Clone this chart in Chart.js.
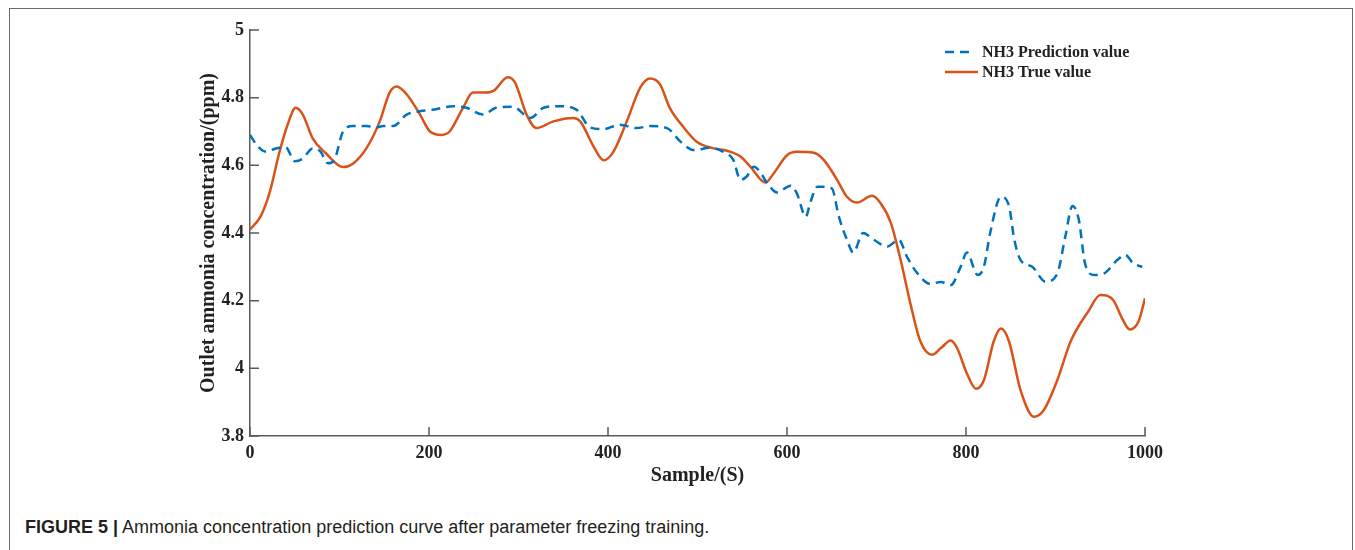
<!DOCTYPE html>
<html>
<head>
<meta charset="utf-8">
<script src="https://cdn.jsdelivr.net/npm/chart.js@4.4.1/dist/chart.umd.min.js"></script>
<style>
  html, body { margin: 0; padding: 0; background: #fff; }
  body { width: 1355px; height: 550px; position: relative; overflow: hidden; }
  #frame {
    position: absolute; left: 9px; top: 8px; width: 1344px; height: 600px;
    border: 1px solid #6b6b6b; border-bottom: none; box-sizing: border-box;
  }
  #plot { position: absolute; left: 0; top: 0; width: 1355px; height: 500px; }
  #caption {
    position: absolute; left: 25px; top: 517px;
    font-family: 'Liberation Sans', Arial, sans-serif; font-size: 18px;
    color: #231f20; white-space: nowrap;
  }
  #caption b { font-weight: bold; }
</style>
</head>
<body>
<div id="frame"></div>
<div id="plot"><canvas id="chart"></canvas></div>
<div id="caption"><b>FIGURE 5 |</b> Ammonia concentration prediction curve after parameter freezing training.</div>
<script>
// Outlet NH3 readings against sample time (s)
const trueSamples = [0, 12, 22, 33, 42, 51, 59, 70, 85, 104, 115, 130, 145, 156, 164, 175, 190, 201, 214, 223,
  238, 249, 262, 272, 288, 296, 309, 320, 339, 361, 369, 384, 395, 406, 421, 436, 447, 458, 469, 484,
  499, 518, 533, 548, 559, 576, 585, 600, 611, 630, 641, 656, 667, 678, 695, 704, 716, 727, 738, 749,
  762, 772, 783, 790, 801, 811, 820, 831, 839, 848, 861, 876, 887, 902, 917, 937, 950, 965, 974, 983,
  993, 1000]
const trueValues = [4.41, 4.45, 4.52, 4.64, 4.72, 4.77, 4.75, 4.68, 4.635, 4.595, 4.605, 4.65, 4.73, 4.815, 4.833, 4.81, 4.75, 4.70, 4.69, 4.70,
  4.77, 4.815, 4.815, 4.82, 4.86, 4.845, 4.75, 4.71, 4.73, 4.74, 4.73, 4.655, 4.615, 4.64, 4.73, 4.83, 4.857, 4.84, 4.77, 4.714,
  4.67, 4.65, 4.643, 4.626, 4.596, 4.549, 4.576, 4.63, 4.64, 4.637, 4.616, 4.557, 4.507, 4.49, 4.51, 4.49, 4.43, 4.32, 4.19, 4.08,
  4.04, 4.06, 4.082, 4.06, 3.985, 3.94, 3.965, 4.08, 4.118, 4.08, 3.935, 3.857, 3.877, 3.965, 4.08, 4.17, 4.217, 4.20, 4.15, 4.115,
  4.14, 4.207]

const predSamples = [0, 9, 18, 29, 40, 50, 59, 70, 79, 87, 94, 104, 115, 130, 141, 149, 160, 175, 190, 204,
  227, 242, 260, 275, 294, 313, 328, 346, 365, 380, 395, 413, 432, 447, 466, 481, 496, 514, 529, 540,
  548, 555, 563, 570, 578, 589, 604, 611, 621, 626, 634, 650, 658, 667, 674, 685, 697, 712, 725, 734,
  746, 760, 772, 783, 794, 801, 813, 820, 827, 839, 848, 854, 861, 874, 889, 902, 911, 919, 926, 933,
  943, 954, 969, 978, 987, 997]
const predValues = [4.69, 4.655, 4.64, 4.65, 4.653, 4.612, 4.62, 4.65, 4.64, 4.606, 4.615, 4.70, 4.716, 4.716, 4.712, 4.716, 4.716, 4.75, 4.76, 4.764,
  4.775, 4.77, 4.75, 4.77, 4.773, 4.74, 4.77, 4.775, 4.764, 4.712, 4.707, 4.72, 4.71, 4.716, 4.71, 4.67, 4.645, 4.652, 4.64, 4.616,
  4.557, 4.567, 4.596, 4.58, 4.547, 4.52, 4.54, 4.517, 4.448, 4.49, 4.537, 4.532, 4.448, 4.38, 4.342, 4.40, 4.38, 4.36, 4.38, 4.33,
  4.28, 4.25, 4.255, 4.246, 4.30, 4.342, 4.276, 4.30, 4.40, 4.507, 4.48, 4.38, 4.32, 4.30, 4.256, 4.28, 4.39, 4.48, 4.44, 4.31,
  4.276, 4.28, 4.32, 4.335, 4.31, 4.30]

const xTicks = [0, 200, 400, 600, 800, 1000]
const yTicks = [3.8, 4, 4.2, 4.4, 4.6, 4.8, 5]

const seriesNames = ['NH3 Prediction value', 'NH3 True value']

const toPoints = (xs, ys) => xs.map((x, i) => ({ x, y: ys[i] }))

const serif = "'Liberation Serif', 'Times New Roman', serif"
const axisColor = '#5a5a5a'
const textColor = '#222'

// short tick marks pointing into the plot, as in MATLAB figures
const inwardTicks = {
  id: 'inwardTicks',
  afterDatasetsDraw (chart) {
    const { ctx, chartArea, scales } = chart
    const len = 9
    ctx.save()
    ctx.strokeStyle = axisColor
    ctx.lineWidth = 1.5
    ctx.beginPath()
    scales.x.ticks.forEach(t => {
      const px = scales.x.getPixelForValue(t.value)
      ctx.moveTo(px, chartArea.bottom)
      ctx.lineTo(px, chartArea.bottom - len)
    })
    scales.y.ticks.forEach(t => {
      const py = scales.y.getPixelForValue(t.value)
      ctx.moveTo(chartArea.left, py)
      ctx.lineTo(chartArea.left + len, py)
    })
    ctx.stroke()
    ctx.restore()
  }
}

// legend sitting inside the plot, top right
const lineLegend = {
  id: 'lineLegend',
  afterDraw (chart) {
    const { ctx } = chart
    const x0 = 945
    const x1 = 978
    const textX = 982
    const rows = [52, 72]
    ctx.save()
    chart.data.datasets.forEach((ds, i) => {
      const y = rows[i]
      ctx.strokeStyle = ds.borderColor
      ctx.lineWidth = ds.borderWidth
      ctx.setLineDash(ds.borderDash || [])
      ctx.beginPath()
      ctx.moveTo(x0, y)
      ctx.lineTo(i === 0 ? x1 - 8 : x1, y)
      ctx.stroke()
      ctx.setLineDash([])
      ctx.fillStyle = textColor
      ctx.font = 'bold 16px ' + serif
      ctx.textBaseline = 'middle'
      ctx.fillText(ds.label, textX, y + 1)
    })
    ctx.restore()
  }
}

const ctx = document.getElementById('chart')
new Chart(ctx, {
  type: 'line',
  data: {
    datasets: [
      {
        label: seriesNames[0],
        data: toPoints(predSamples, predValues),
        borderColor: '#0072bd',
        borderWidth: 2.5,
        borderDash: [9, 6],
        pointRadius: 0,
        cubicInterpolationMode: 'monotone',
        fill: false
      },
      {
        label: seriesNames[1],
        data: toPoints(trueSamples, trueValues),
        borderColor: '#d95319',
        borderWidth: 2.5,
        pointRadius: 0,
        cubicInterpolationMode: 'monotone',
        fill: false
      }
    ]
  },
  options: {
    responsive: true,
    maintainAspectRatio: false,
    animation: false,
    events: [],
    layout: { padding: { top: 30, right: 210, left: 188, bottom: 0 } },
    plugins: {
      legend: { display: false },
      tooltip: { enabled: false }
    },
    scales: {
      x: {
        type: 'linear',
        min: 0,
        max: 1000,
        afterBuildTicks: axis => { axis.ticks = xTicks.map(value => ({ value })) },
        afterFit: axis => { axis.height = 64 },
        grid: { display: false, drawTicks: false },
        border: { display: true, color: axisColor, width: 1.5 },
        ticks: {
          padding: 7,
          color: textColor,
          font: { family: serif, size: 18, weight: 'bold' },
          maxRotation: 0,
          callback: v => String(v)
        },
        title: {
          display: true,
          text: 'Sample/(S)',
          color: textColor,
          font: { family: serif, size: 20, weight: 'bold' },
          padding: { top: 0, bottom: 12 }
        }
      },
      y: {
        type: 'linear',
        min: 3.8,
        max: 5,
        afterBuildTicks: axis => { axis.ticks = yTicks.map(value => ({ value })) },
        afterFit: axis => { axis.width = 62 },
        grid: { display: false, drawTicks: false },
        border: { display: true, color: axisColor, width: 1.5 },
        ticks: {
          padding: 6,
          color: textColor,
          font: { family: serif, size: 18, weight: 'bold' },
          callback: v => String(Math.round(v * 10) / 10)
        },
        title: {
          display: true,
          text: 'Outlet ammonia concentration/(ppm)',
          color: textColor,
          font: { family: serif, size: 20, weight: 'bold' },
          padding: { top: 9, bottom: 0 }
        }
      }
    }
  },
  plugins: [inwardTicks, lineLegend]
})
</script>
</body>
</html>
